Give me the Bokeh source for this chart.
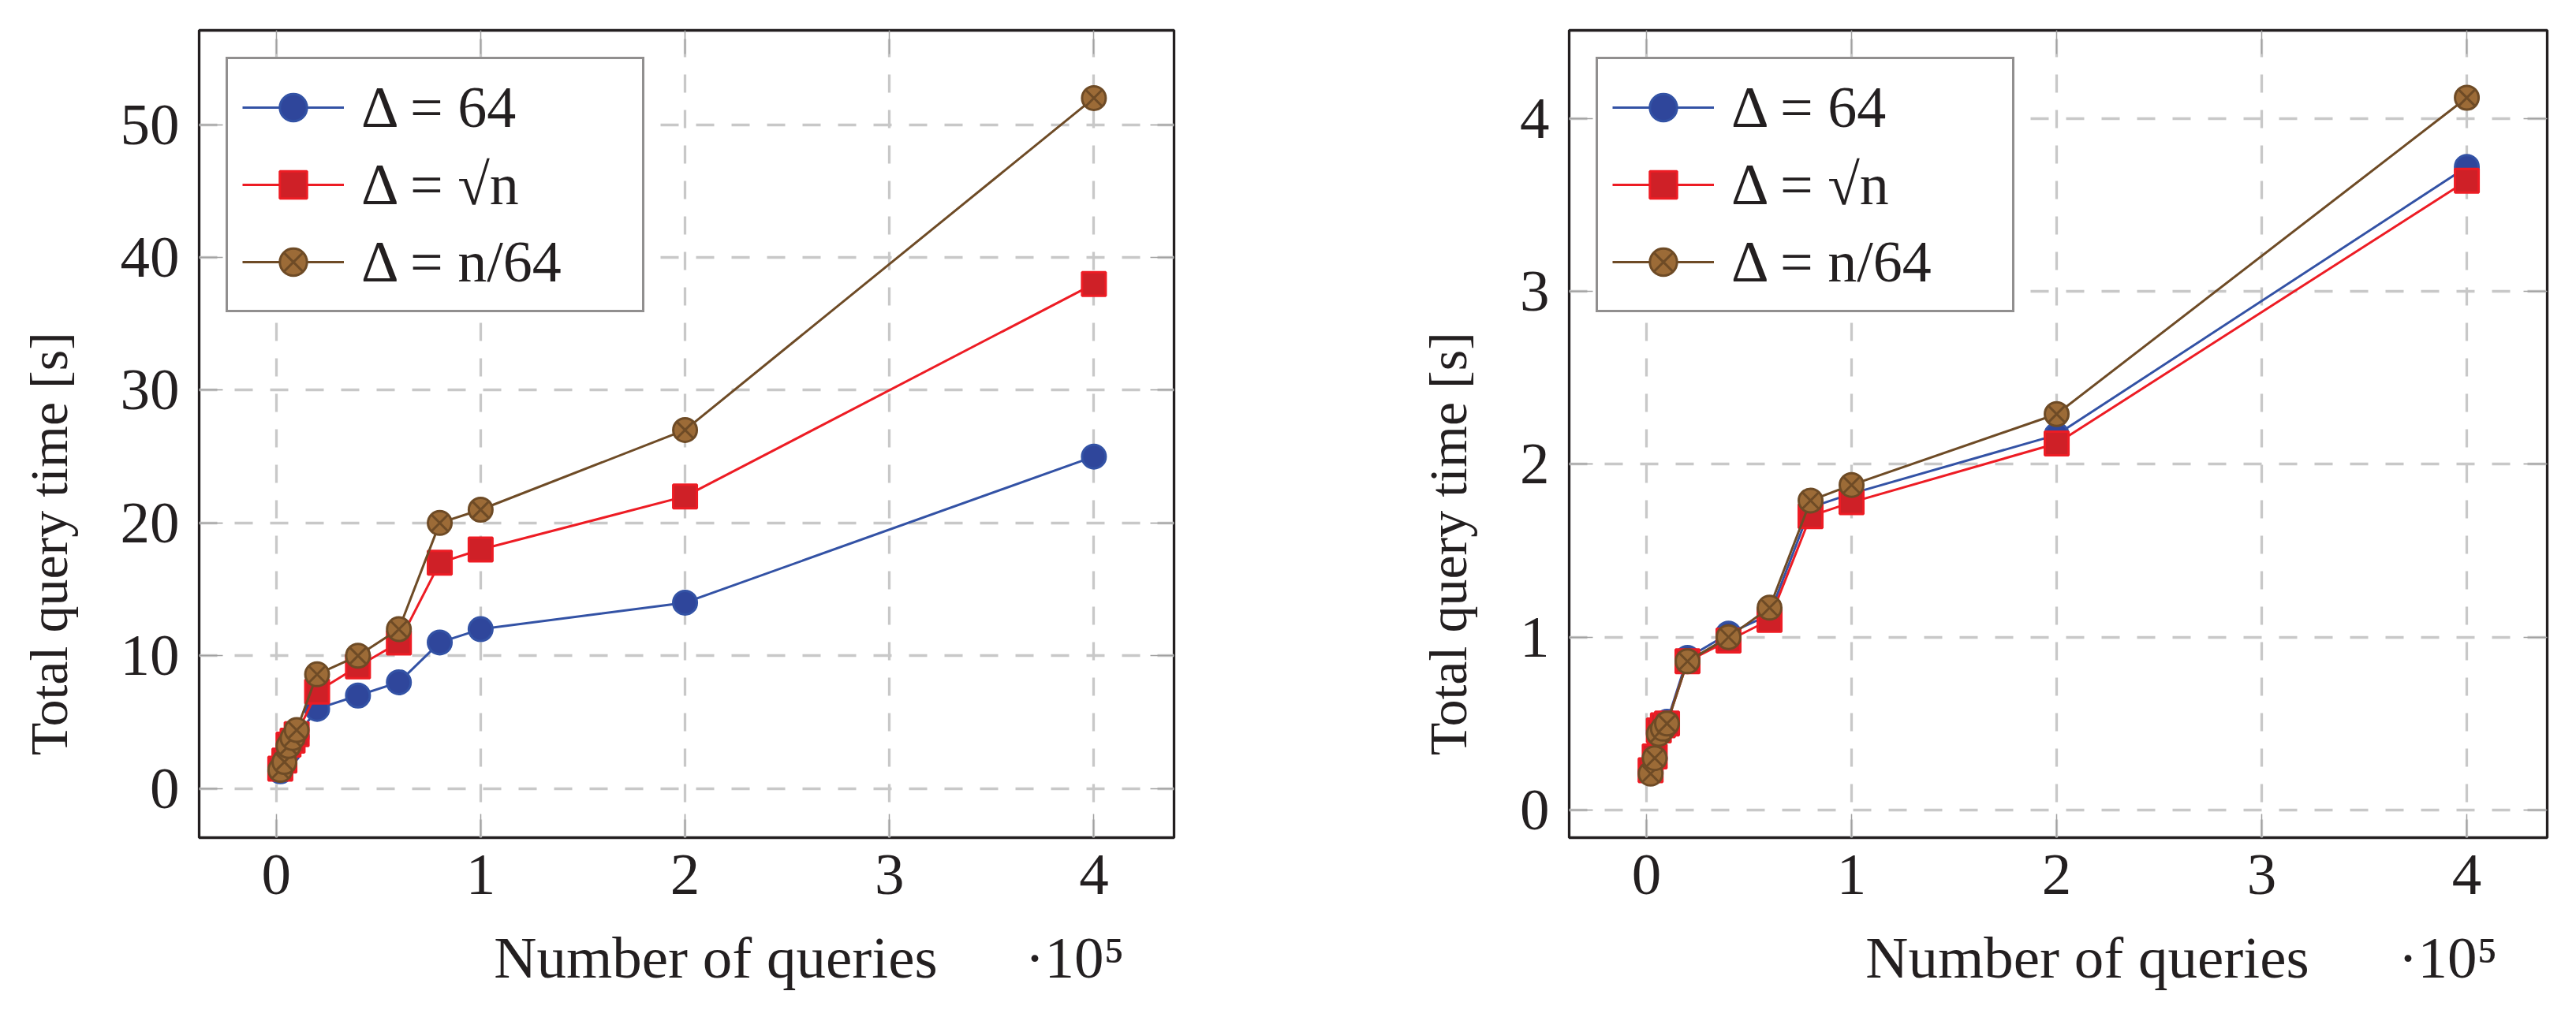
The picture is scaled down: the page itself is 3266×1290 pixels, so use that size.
from bokeh.plotting import figure
from bokeh.layouts import row
from bokeh.models import (Range1d, FixedTicker, LinearAxis, CustomJSTickFormatter,
                          Legend, LegendItem)
from bokeh.embed import file_html
from bokeh.resources import INLINE

# number of queries (x axis is shown in units of 10^5)
queries = [2000, 4000, 6000, 8000, 10000, 20000, 40000, 60000, 80000, 100000, 200000, 400000]

# left panel, total query time [s]
left_d64 = [1.3, 1.9, 2.8, 3.4, 3.9, 6.0, 7.0, 8.0, 11.0, 12.0, 14.0, 25.0]
left_sqrt = [1.5, 2.1, 3.3, 3.6, 4.1, 7.3, 9.2, 11.0, 17.0, 18.0, 22.0, 38.0]
left_n64 = [1.4, 2.0, 3.2, 3.8, 4.4, 8.6, 10.0, 12.0, 20.0, 21.0, 27.0, 52.0]

# right panel, total query time [s]
right_d64 = [0.22, 0.30, 0.45, 0.48, 0.51, 0.88, 1.02, 1.13, 1.75, 1.83, 2.17, 3.72]
right_sqrt = [0.23, 0.31, 0.46, 0.49, 0.50, 0.86, 0.98, 1.10, 1.70, 1.78, 2.12, 3.64]
right_n64 = [0.21, 0.30, 0.44, 0.47, 0.50, 0.86, 1.00, 1.17, 1.79, 1.88, 2.29, 4.12]

x_ticks = [0, 100000, 200000, 300000, 400000]
left_y_ticks = [0, 10, 20, 30, 40, 50]
right_y_ticks = [0, 1, 2, 3, 4]

series_labels = ["Δ = 64", "Δ = √n", "Δ = n/64"]
x_title = "Number of queries"
x_scale = "·10⁵"
y_title = "Total query time [s]"

FONT = "Liberation Serif"
INK = "#231f20"
BLUE_LINE, BLUE_FILL = "#3352a5", "#2f469b"
RED_LINE, RED_FILL = "#ed1c24", "#cf2027"
BROWN_LINE, BROWN_FILL = "#6e4b26", "#9c6b37"

X_START, X_END = -37700, 439200


def text_axis(ticks, labels, size="75px", **kw):
    # an axis with no line and no ticks, used only to place a few texts
    code = "const labels = %r; return labels[index];" % (labels,)
    ax = LinearAxis(ticker=FixedTicker(ticks=ticks),
                    formatter=CustomJSTickFormatter(code=code),
                    axis_line_color=None, major_tick_line_color=None,
                    minor_tick_line_color=None, major_tick_in=0, major_tick_out=0,
                    major_label_text_font=FONT, major_label_text_font_size=size,
                    major_label_text_color=INK, **kw)
    return ax


def make_panel(d64, dsqrt, dn64, y_range, y_ticks, frame_w, left_border, right_border):
    frame_h = 1024
    p = figure(width=left_border + frame_w + right_border, height=38 + frame_h + 222,
               x_range=Range1d(X_START, X_END), y_range=Range1d(*y_range),
               min_border_left=left_border, min_border_right=right_border,
               min_border_top=38, min_border_bottom=222,
               output_backend="svg", toolbar_location=None)
    p.background_fill_color = "white"
    p.border_fill_color = "white"
    p.outline_line_color = INK
    p.outline_line_width = 3.3

    p.xaxis.ticker = FixedTicker(ticks=x_ticks)
    p.xaxis.formatter = CustomJSTickFormatter(code="return (tick / 1e5).toFixed(0)")
    p.yaxis.ticker = FixedTicker(ticks=y_ticks)
    for ax in (p.xaxis, p.yaxis):
        ax.axis_line_color = None
        ax.major_tick_in = 30
        ax.major_tick_out = 0
        ax.major_tick_line_color = "#a0a0a0"
        ax.major_tick_line_width = 1.5
        ax.minor_tick_line_color = None
        ax.major_label_text_font = FONT
        ax.major_label_text_font_size = "75px"
        ax.major_label_text_color = INK
    p.xaxis.major_label_standoff = 22
    p.yaxis.major_label_standoff = 25

    # tick marks on the top and right edges, as pgfplots draws them
    for loc, ticks in (("right", y_ticks), ("above", x_ticks)):
        ax = LinearAxis(ticker=FixedTicker(ticks=ticks),
                        formatter=CustomJSTickFormatter(code="return ''"),
                        major_tick_in=30, major_tick_out=0,
                        major_tick_line_color="#a0a0a0", major_tick_line_width=1.5,
                        minor_tick_line_color=None, axis_line_color=None,
                        major_label_standoff=0, major_label_text_font_size="0px")
        p.add_layout(ax, loc)

    # axis titles: x title a bit right of centre, the 10^5 factor near the right end,
    # y title a bit below the middle of the frame
    span = X_END - X_START
    x_title_pos = X_START + span * (0.5 + 37 / frame_w)
    x_scale_pos = X_END - span * 126 / frame_w
    p.add_layout(text_axis([x_title_pos, x_scale_pos], [x_title, x_scale],
                           major_label_standoff=36), "below")
    y0, y1 = y_range
    y_title_pos = y0 + (y1 - y0) * 0.364
    p.add_layout(text_axis([y_title_pos], [y_title], size="68px",
                           major_label_standoff=49,
                           major_label_orientation="vertical"), "left")

    for g in (p.xgrid, p.ygrid):
        g.grid_line_color = "#c8c8c8"
        g.grid_line_width = 3.3
        g.grid_line_dash = "23 22"

    l1 = p.line(queries, d64, line_color=BLUE_LINE, line_width=3)
    s1 = p.scatter(queries, d64, marker="circle", size=30, fill_color=BLUE_FILL,
                   line_color=BLUE_LINE, line_width=3)
    l2 = p.line(queries, dsqrt, line_color=RED_LINE, line_width=3)
    s2 = p.scatter(queries, dsqrt, marker="square", size=30, fill_color=RED_FILL,
                   line_color=RED_LINE, line_width=3)
    l3 = p.line(queries, dn64, line_color=BROWN_LINE, line_width=3)
    s3 = p.scatter(queries, dn64, marker="circle_x", size=30, fill_color=BROWN_FILL,
                   line_color=BROWN_LINE, line_width=3)

    legend = Legend(items=[
        LegendItem(label=series_labels[0], renderers=[l1, s1]),
        LegendItem(label=series_labels[1], renderers=[l2, s2]),
        LegendItem(label=series_labels[2], renderers=[l3, s3]),
    ], location="top_left", margin=34, padding=18, spacing=12,
        glyph_width=129, glyph_height=86, label_height=86, label_width=338,
        label_standoff=22, border_line_color=INK, border_line_width=3,
        label_text_font=FONT, label_text_font_size="74px", label_text_color=INK,
        background_fill_alpha=1)
    p.add_layout(legend)
    return p


p1 = make_panel(left_d64, left_sqrt, left_n64, (-3.7, 57.1), left_y_ticks,
                1236, 252, 145)
p2 = make_panel(right_d64, right_sqrt, right_n64, (-0.16, 4.51), right_y_ticks,
                1240, 356, 25)

layout = row(p1, p2)
open("out.html", "w").write(file_html(layout, INLINE))
